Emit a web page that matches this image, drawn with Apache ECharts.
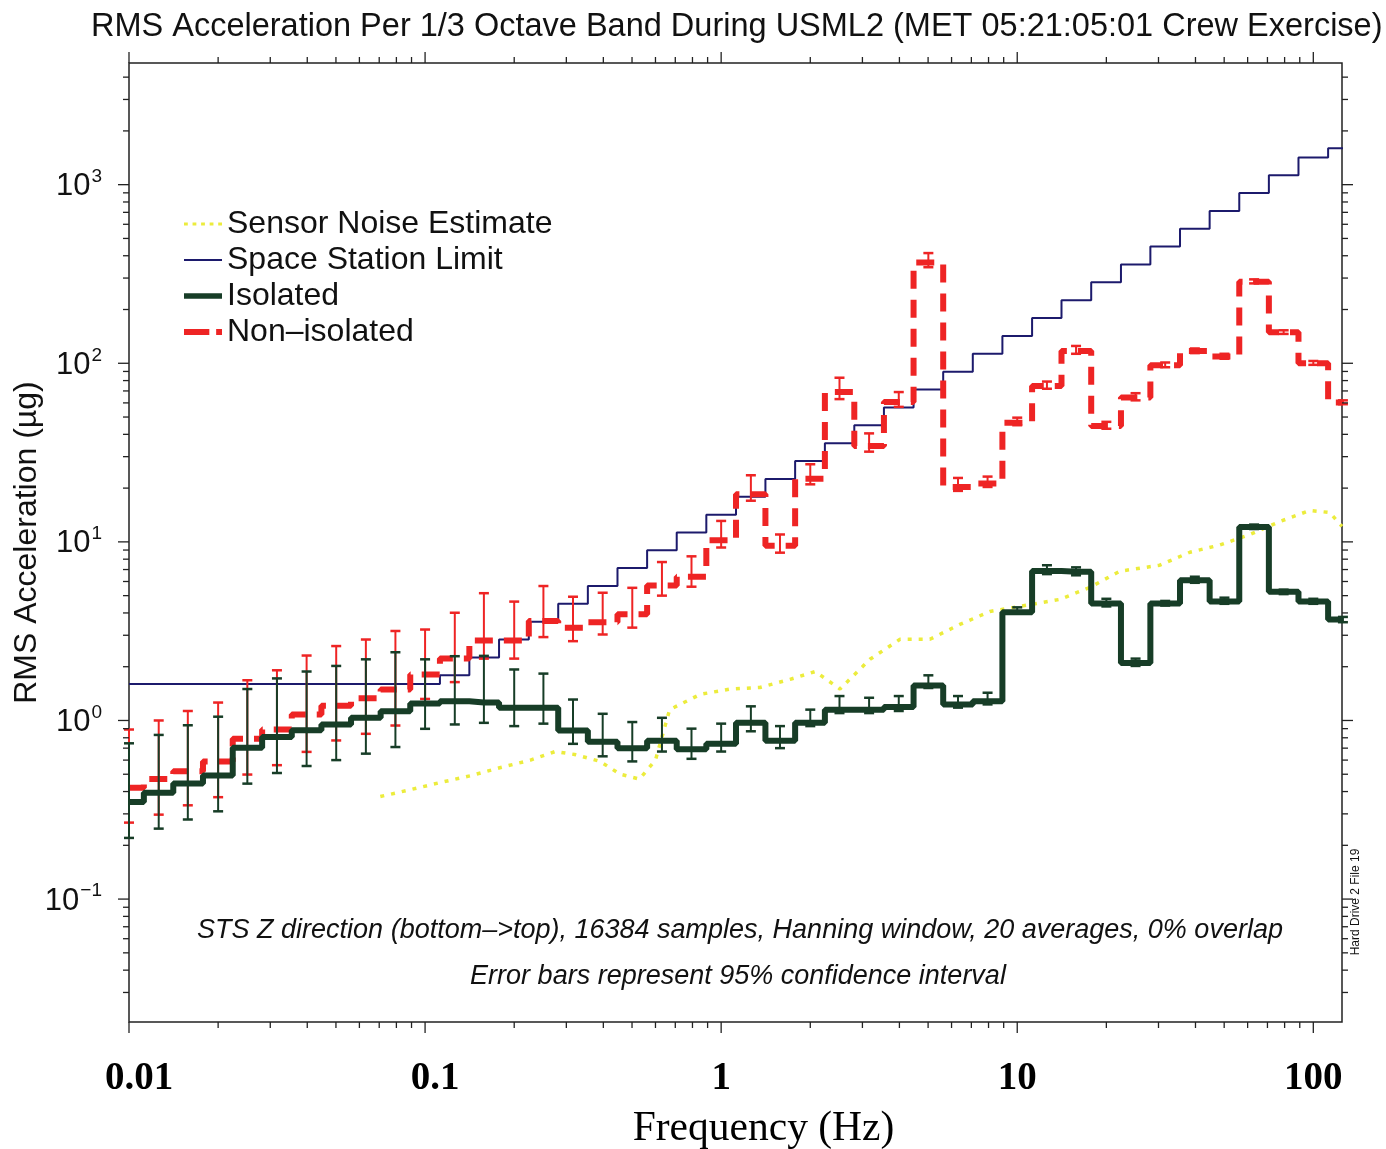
<!DOCTYPE html>
<html><head><meta charset="utf-8">
<script src="https://cdn.jsdelivr.net/npm/echarts@6/dist/echarts.min.js"></script>
<style>html,body{margin:0;padding:0;background:#fff}#c{width:1386px;height:1149px}</style>
</head><body><div id="c"></div>
<script>
// 1/3-octave band centre frequencies (Hz)
const bandCenters = [0.01,0.0126,0.0158,0.02,0.0251,0.0316,0.0398,0.0501,0.0631,0.0794,
  0.1,0.126,0.158,0.2,0.251,0.316,0.398,0.501,0.631,0.794,
  1,1.26,1.58,2,2.51,3.16,3.98,5.01,6.31,7.94,
  10,12.6,15.8,20,25.1,31.6,39.8,50.1,63.1,79.4,100,125.9];

// Space Station limit (µg)
const limitVals = [1.6,1.6,1.6,1.6,1.6,1.6,1.6,1.6,1.6,1.6,1.6,
  1.79,2.25,2.84,3.57,4.5,5.66,7.13,8.97,11.3,14.2,17.9,22.5,28.4,35.7,45.0,56.6,71.3,89.7,113,
  142,179,225,284,357,450,566,713,897,1130,1420,1600];

// Isolated (µg) with 95% confidence limits
const isoVals = [0.35,0.394,0.444,0.492,0.703,0.807,0.883,0.95,1.035,1.127,1.245,1.28,1.26,1.18,1.18,0.88,0.76,0.70,0.77,0.69,
  0.74,0.97,0.77,0.97,1.15,1.15,1.19,1.57,1.23,1.28,4.04,6.86,6.8,4.52,2.1,4.52,6.1,4.64,12.1,5.26,4.64,3.68];
const isoHigh = [0.745,0.83,0.94,1.05,1.50,1.72,1.88,2.02,2.2,2.41,2.2,2.29,2.3,1.93,1.83,1.31,1.09,0.98,1.035,0.90,
  0.96,1.2,0.93,1.15,1.37,1.34,1.37,1.79,1.37,1.43,4.3,7.4,7.2,4.8,2.22,4.67,6.38,4.87,12.5,5.4,4.8,3.8];
const isoLow = [0.22,0.248,0.279,0.31,0.443,0.508,0.556,0.60,0.652,0.71,0.898,0.95,0.97,0.93,0.96,0.74,0.63,0.59,0.67,0.61,
  0.67,0.87,0.70,0.93,1.1,1.1,1.13,1.52,1.18,1.23,4.0,6.6,6.5,4.35,2.02,4.4,5.9,4.5,11.8,5.1,4.5,3.55];

// Non-isolated (µg) with 95% confidence limits
const nonVals = [0.42,0.47,0.52,0.59,0.79,0.89,1.08,1.21,1.33,1.49,1.81,2.22,2.8,2.8,3.6,3.31,3.55,3.93,5.7,6.38,
  10.2,18.5,9.5,22.6,69,34.4,60.7,367,20.3,21.2,46.5,74.6,117,44.5,64.3,97.5,117,109,286,149,100,60.3];
const nonHigh = [0.89,1.0,1.13,1.26,1.68,1.91,2.31,2.61,2.84,3.17,3.23,4.01,5.16,4.63,5.66,4.93,5.19,5.53,7.71,8.3,
  13.1,23.6,11.0,27.2,83,40.5,69,414,22.8,23.2,49.6,79,125,47,68,101,121,113,295,153,103,62];
const nonLow = [0.268,0.297,0.335,0.372,0.498,0.562,0.667,0.773,0.842,0.937,1.32,1.64,2.22,2.22,2.93,2.78,3.03,3.31,5.0,5.61,
  9.3,17.0,8.7,21.0,63,32,57,345,19.3,20.3,45,72,113,43,62,95,114,106,280,146,98,59];

// Sensor noise estimate
const noiseFreq = [0.0706,0.0893,0.113,0.142,0.18,0.227,0.275,0.32,0.39,0.456,0.53,0.6,0.67,0.85,1.07,1.35,1.71,2.08,2.52,3.18,
  4.02,5.07,6.4,8.1,10.2,13.9,17.6,22.2,30.3,38.3,48.3,61.1,77.1,97.3,113.7,125];
const noiseVals = [0.375,0.41,0.45,0.49,0.545,0.60,0.67,0.645,0.59,0.5,0.47,0.6,1.15,1.4,1.5,1.53,1.7,1.88,1.5,2.2,
  2.85,2.85,3.45,4.08,4.35,4.76,5.56,6.85,7.4,8.75,9.6,11.0,13.0,15.0,14.6,12.2];

// Tick labels
const xTickValues = [0.01,0.1,1,10,100];
const xTickLabels = ['0.01','0.1','1','10','100'];
const yTickValues = [0.1,1,10,100,1000];
const yTickSup = ['\u22121','0','1','2','3'];

const X_MIN = 0.01, X_MAX = 125, Y_MIN = 0.0205, Y_MAX = 4800;

const pairs = (xs, ys) => xs.map((x, i) => [x, ys[i]]);
const errData = (xs, lo, hi) => xs.map((x, i) => [x, lo[i], hi[i]]);

// tick mark data (major + minor, log spaced)
const tickData = [];
for (let e = -2; e <= 2; e++) {
  for (let m = 1; m <= 9; m++) {
    const v = m * Math.pow(10, e);
    if (v >= X_MIN * 0.999 && v <= X_MAX) tickData.push([v, 1, 0, m === 1 ? 1 : 0]);
  }
}
for (let e = -2; e <= 3; e++) {
  for (let m = 1; m <= 9; m++) {
    const v = m * Math.pow(10, e);
    if (v > Y_MIN && v <= Y_MAX) tickData.push([1, v, 1, m === 1 ? 1 : 0]);
  }
}

function errRender(color) {
  return function (params, api) {
    const x = api.value(0);
    const lo = api.coord([x, api.value(1)]);
    const hi = api.coord([x, api.value(2)]);
    const w = 5;
    return { type: 'group', children: [
      { type: 'line', shape: { x1: hi[0], y1: hi[1], x2: lo[0], y2: lo[1] }, style: { stroke: color, lineWidth: 2 } },
      { type: 'line', shape: { x1: hi[0] - w, y1: hi[1], x2: hi[0] + w, y2: hi[1] }, style: { stroke: color, lineWidth: 2.5 } },
      { type: 'line', shape: { x1: lo[0] - w, y1: lo[1], x2: lo[0] + w, y2: lo[1] }, style: { stroke: color, lineWidth: 2.5 } }
    ]};
  };
}

function tickRender(params, api) {
  const cs = params.coordSys;
  const isY = api.value(2) === 1;
  const major = api.value(3) === 1;
  const len = major ? 11 : 6;
  const st = { stroke: '#222', lineWidth: 1.3 };
  if (!isY) {
    const px = api.coord([api.value(0), 1])[0];
    const b = cs.y + cs.height, t = cs.y;
    return { type: 'group', children: [
      { type: 'line', shape: { x1: px, y1: b, x2: px, y2: b + len }, style: st },
      { type: 'line', shape: { x1: px, y1: t, x2: px, y2: t - len }, style: st }
    ]};
  } else {
    const py = api.coord([1, api.value(1)])[1];
    const l = cs.x, r = cs.x + cs.width;
    return { type: 'group', children: [
      { type: 'line', shape: { x1: l, y1: py, x2: l - len, y2: py }, style: st },
      { type: 'line', shape: { x1: r, y1: py, x2: r + len, y2: py }, style: st }
    ]};
  }
}

const SANS = '"Liberation Sans", Arial, Helvetica, sans-serif';
const SERIF = '"Liberation Serif", "Times New Roman", serif';
const C_RED = '#ee2424', C_GREEN = '#173d27', C_BLUE = '#1c1a6c', C_YEL = '#ecec3c';

const xLabelRich = {
  n: { fontFamily: SERIF, fontWeight: 'bold', fontSize: 39, color: '#000' },
  a: { fontFamily: SERIF, fontWeight: 'bold', fontSize: 39, color: '#000', padding: [0, 0, 0, 20] }
};

const option = {
  backgroundColor: '#ffffff',
  animation: false,
  title: {
    text: 'RMS Acceleration Per 1/3 Octave Band During USML2 (MET 05:21:05:01 Crew Exercise)',
    left: 86, top: 6,
    textStyle: { fontFamily: SANS, fontSize: 32.5, fontWeight: 'normal', color: '#111' }
  },
  legend: {
    orient: 'vertical', left: 184, top: 208, padding: 0, itemWidth: 38, itemHeight: 22, itemGap: 4,
    symbolKeepAspect: true,
    textStyle: { fontFamily: SANS, fontSize: 32, lineHeight: 32, color: '#111' },
    data: [
      { name: 'Sensor Noise Estimate', icon: 'path://M0,0h4v3h-4zM9,0h4v3h-4zM18,0h4v3h-4zM27,0h4v3h-4zM36,0h4v3h-4z' },
      { name: 'Space Station Limit', icon: 'path://M0,0h40v2h-40z' },
      { name: 'Isolated', icon: 'path://M0,0h40v6h-40z' },
      { name: 'Non\u2013isolated', icon: 'path://M0,0h26v6h-26zM33,0h6v6h-6z' }
    ],
    selectedMode: false
  },
  grid: { left: 129, right: 44, top: 63, bottom: 127, containLabel: false, outerBoundsMode: 'none',
    show: true, borderColor: '#222', borderWidth: 1.5, backgroundColor: 'transparent' },
  xAxis: {
    type: 'log', logBase: 10, min: X_MIN, max: X_MAX,
    axisLine: { show: false }, axisTick: { show: false }, splitLine: { show: false }, minorTick: { show: false },
    axisLabel: {
      showMaxLabel: false, margin: 37,
      formatter: v => {
        const i = xTickValues.findIndex(t => Math.abs(Math.log10(t) - Math.log10(v)) < 1e-6);
        if (i < 0) return '';
        return (i < 2 ? '{a|' : '{n|') + xTickLabels[i] + '}';
      },
      rich: xLabelRich
    },
    name: 'Frequency (Hz)', nameLocation: 'middle', nameGap: 86,
    nameTextStyle: { fontFamily: SERIF, fontSize: 41.5, color: '#000', padding: [0, 0, 0, 56] }
  },
  yAxis: {
    type: 'log', logBase: 10, min: Y_MIN, max: Y_MAX,
    axisLine: { show: false }, axisTick: { show: false }, splitLine: { show: false }, minorTick: { show: false },
    axisLabel: {
      showMinLabel: false, showMaxLabel: false, margin: 27,
      formatter: v => { const i = yTickValues.findIndex(t => Math.abs(Math.log10(t) - Math.log10(v)) < 1e-6); return i >= 0 ? '{b|10}{s|' + yTickSup[i] + '}' : ''; },
      rich: {
        b: { fontFamily: SANS, fontSize: 31, color: '#111', verticalAlign: 'bottom' },
        s: { fontFamily: SANS, fontSize: 19, color: '#111', verticalAlign: 'bottom', padding: [0, 0, 16, 1] }
      }
    },
    name: 'RMS Acceleration (\u00b5g)', nameLocation: 'middle', nameGap: 86, nameRotate: 90, nameMoveOverlap: false,
    nameTextStyle: { fontFamily: SANS, fontSize: 32, color: '#111' }
  },
  graphic: [
    { type: 'text', x: 740, y: 930, silent: true,
      style: { text: 'STS Z direction (bottom\u2013>top), 16384 samples, Hanning window, 20 averages, 0% overlap',
        font: 'italic 27px ' + SANS, fill: '#111', align: 'center', verticalAlign: 'middle' } },
    { type: 'text', x: 738, y: 976, silent: true,
      style: { text: 'Error bars represent 95% confidence interval',
        font: 'italic 27px ' + SANS, fill: '#111', align: 'center', verticalAlign: 'middle' } },
    { type: 'text', x: 1356, y: 902, rotation: Math.PI / 2, silent: true,
      style: { text: 'Hard Drive 2 File 19', font: '12px ' + SANS, fill: '#111', align: 'center', verticalAlign: 'middle' } }
  ],
  series: [
    { name: 'Sensor Noise Estimate', type: 'line', data: pairs(noiseFreq, noiseVals), symbol: 'none', z: 2,
      lineStyle: { color: C_YEL, width: 3.5, type: [4, 7] }, itemStyle: { color: C_YEL } },
    { name: 'Space Station Limit', type: 'line', step: 'middle', data: pairs(bandCenters, limitVals), symbol: 'none', z: 3,
      lineStyle: { color: C_BLUE, width: 2 }, itemStyle: { color: C_BLUE } },
    { name: 'nonErr', type: 'custom', renderItem: errRender(C_RED), data: errData(bandCenters, nonLow, nonHigh), z: 4,
      encode: { x: 0, y: [1, 2] }, silent: true },
    { name: 'Non\u2013isolated', type: 'line', step: 'middle', data: pairs(bandCenters, nonVals), symbol: 'none', z: 5,
      lineStyle: { color: C_RED, width: 6, type: [18, 11], cap: 'butt' }, itemStyle: { color: C_RED } },
    { name: 'isoErr', type: 'custom', renderItem: errRender(C_GREEN), data: errData(bandCenters, isoLow, isoHigh), z: 6,
      encode: { x: 0, y: [1, 2] }, silent: true },
    { name: 'Isolated', type: 'line', step: 'middle', data: pairs(bandCenters, isoVals), symbol: 'none', z: 7,
      lineStyle: { color: C_GREEN, width: 6 }, itemStyle: { color: C_GREEN } },
    { name: 'ticks', type: 'custom', renderItem: tickRender, data: tickData, z: 8, clip: false,
      encode: { x: 0, y: 1 }, silent: true }
  ]
};
const chart = echarts.init(document.getElementById('c'));
chart.setOption(option);
</script>
</body></html>
